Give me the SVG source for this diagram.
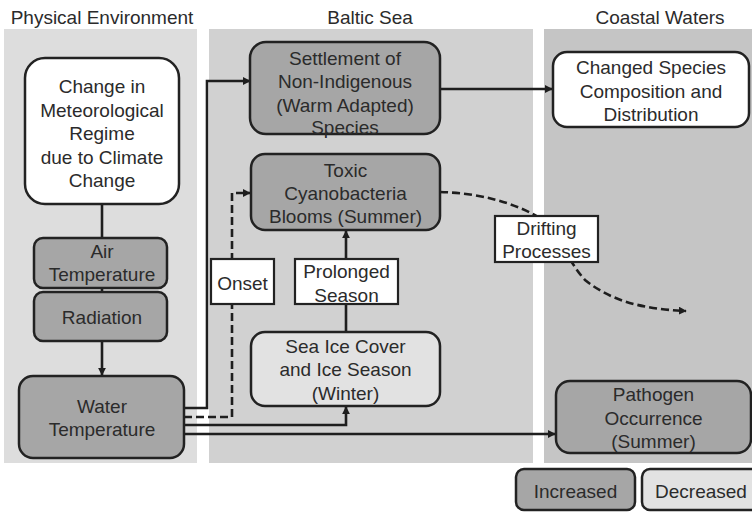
<svg xmlns="http://www.w3.org/2000/svg" width="752" height="512" viewBox="0 0 752 512">
  <style>
    text { font-family: "Liberation Sans", Arial, sans-serif; font-size: 19px; fill: #2b2b2b; text-anchor: middle; }
    .box { stroke: #222; stroke-width: 2.5; }
    .inc { fill: #a6a6a6; }
    .dec { fill: #e2e2e2; }
    .white { fill: #ffffff; }
    .label { fill: #ffffff; stroke: #222; stroke-width: 2.2; }
    .conn { fill: none; stroke: #1e1e1e; stroke-width: 2.6; }
    .dash { stroke-dasharray: 8 4; }
  </style>
  <defs>
    <marker id="arrow" viewBox="0 0 10 10" refX="9" refY="5" markerWidth="8" markerHeight="8" markerUnits="userSpaceOnUse" orient="auto">
      <path d="M0,0 L10,5 L0,10 z" fill="#1e1e1e"/>
    </marker>
  </defs>

  <rect width="752" height="512" fill="#ffffff"/>

  <!-- region panels -->
  <g id="panels">
    <rect x="4" y="29" width="193" height="434" fill="#dddddd"/>
    <rect x="209" y="29" width="324" height="434" fill="#d1d1d1"/>
    <rect x="544" y="29" width="208" height="434" fill="#c5c5c5"/>
    <text x="102" y="24">Physical Environment</text>
    <text x="370" y="24">Baltic Sea</text>
    <text x="660" y="24">Coastal Waters</text>
  </g>

  <!-- connectors -->
  <g id="connectors">
    <line class="conn" x1="102" y1="204" x2="102" y2="238"/>
    <line class="conn" x1="102" y1="288" x2="102" y2="292"/>
    <line class="conn" x1="102" y1="341" x2="102" y2="375" marker-end="url(#arrow)"/>
    <polyline class="conn" points="184,408 207,408 207,81 250,81" marker-end="url(#arrow)"/>
    <polyline class="conn dash" points="184,417 232,417 232,193 250,193" marker-end="url(#arrow)"/>
    <polyline class="conn" points="184,425 346,425 346,407" marker-end="url(#arrow)"/>
    <line class="conn" x1="184" y1="434" x2="555" y2="434" marker-end="url(#arrow)"/>
    <line class="conn" x1="346" y1="332" x2="346" y2="304"/>
    <line class="conn" x1="346" y1="259" x2="346" y2="231" marker-end="url(#arrow)"/>
    <line class="conn" x1="440" y1="89" x2="552" y2="89" marker-end="url(#arrow)"/>
    <path class="conn dash" d="M440,192 C480,193 515,203 540,218 C560,232 565,258 585,280 C610,300 640,309 686,311" marker-end="url(#arrow)"/>
  </g>

  <!-- nodes -->
  <g id="node-meteo">
    <rect class="box white" x="25" y="58" width="154" height="146" rx="20"/>
    <text x="102" y="93">Change in</text>
    <text x="102" y="116.5">Meteorological</text>
    <text x="102" y="140">Regime</text>
    <text x="102" y="163.5">due to Climate</text>
    <text x="102" y="187">Change</text>
  </g>
  <g id="node-air">
    <rect class="box inc" x="34" y="238" width="133" height="50" rx="9"/>
    <text x="102" y="258">Air</text>
    <text x="102" y="281">Temperature</text>
  </g>
  <g id="node-radiation">
    <rect class="box inc" x="34" y="292" width="133" height="49" rx="9"/>
    <text x="102" y="324">Radiation</text>
  </g>
  <g id="node-water">
    <rect class="box inc" x="19" y="376" width="165" height="82" rx="14"/>
    <text x="102" y="413">Water</text>
    <text x="102" y="436">Temperature</text>
  </g>
  <g id="node-settlement">
    <rect class="box inc" x="250" y="42" width="190" height="92" rx="16"/>
    <text x="345" y="64.5">Settlement of</text>
    <text x="345" y="88">Non-Indigenous</text>
    <text x="345" y="111.5">(Warm Adapted)</text>
    <text x="345" y="134">Species</text>
  </g>
  <g id="node-cyano">
    <rect class="box inc" x="251" y="154" width="189" height="76" rx="14"/>
    <text x="345.5" y="177">Toxic</text>
    <text x="345.5" y="200">Cyanobacteria</text>
    <text x="345.5" y="223">Blooms (Summer)</text>
  </g>
  <g id="node-seaice">
    <rect class="box dec" x="251" y="332" width="189" height="74" rx="14"/>
    <text x="345.5" y="353">Sea Ice Cover</text>
    <text x="345.5" y="376">and Ice Season</text>
    <text x="345.5" y="400">(Winter)</text>
  </g>
  <g id="node-species">
    <rect class="box white" x="553" y="52" width="196" height="75" rx="14"/>
    <text x="651" y="74">Changed Species</text>
    <text x="651" y="97.5">Composition and</text>
    <text x="651" y="121">Distribution</text>
  </g>
  <g id="node-pathogen">
    <rect class="box inc" x="556" y="381" width="195" height="72" rx="14"/>
    <text x="653.5" y="401">Pathogen</text>
    <text x="653.5" y="424.5">Occurrence</text>
    <text x="653.5" y="448">(Summer)</text>
  </g>

  <!-- edge labels -->
  <g id="label-onset">
    <rect class="label" x="211" y="259" width="63" height="45"/>
    <text x="242.5" y="290">Onset</text>
  </g>
  <g id="label-prolonged">
    <rect class="label" x="295" y="259" width="103" height="45"/>
    <text x="346.5" y="278">Prolonged</text>
    <text x="346.5" y="301.5">Season</text>
  </g>
  <g id="label-drifting">
    <rect class="label" x="495" y="216" width="103" height="46"/>
    <text x="546.5" y="235">Drifting</text>
    <text x="546.5" y="258">Processes</text>
  </g>

  <!-- legend -->
  <g id="legend-increased">
    <rect class="box inc" x="516" y="469" width="119" height="41" rx="8"/>
    <text x="575.5" y="497.5">Increased</text>
  </g>
  <g id="legend-decreased">
    <rect class="box dec" x="642" y="469" width="118" height="41" rx="8"/>
    <text x="701" y="497.5">Decreased</text>
  </g>
</svg>
